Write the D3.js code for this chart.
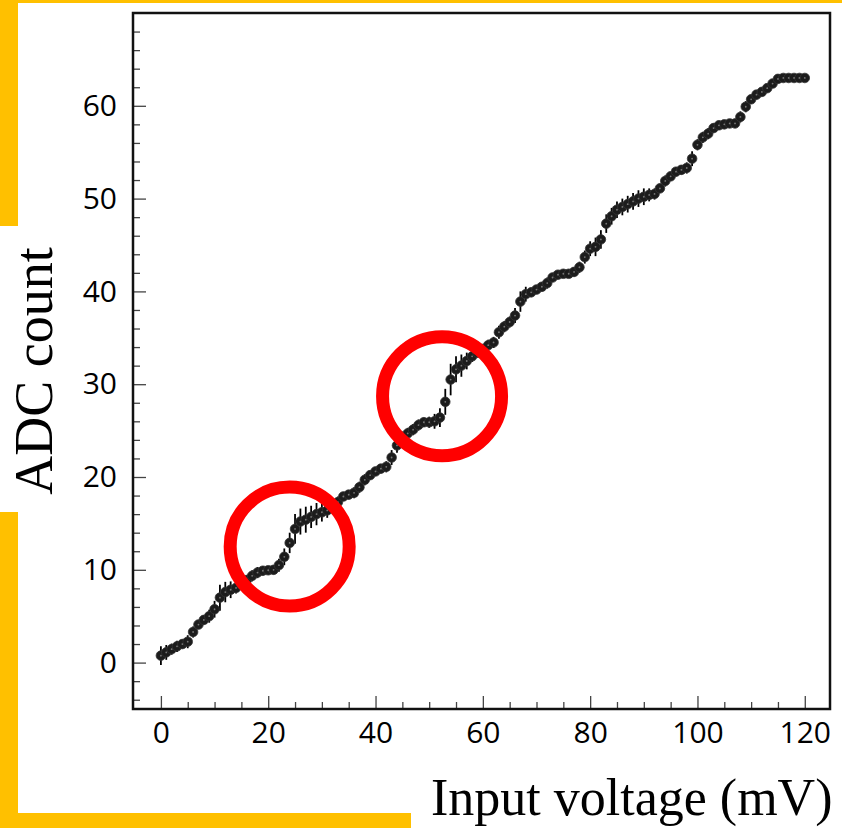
<!DOCTYPE html>
<html>
<head>
<meta charset="utf-8">
<script src="https://cdn.jsdelivr.net/npm/d3@7"></script>
<style>
  html, body { margin: 0; padding: 0; background: #fff; }
  svg { display: block; }
</style>
</head>
<body>
<svg id="chart" width="842" height="828"></svg>
<script>
// ---- data ----
const voltage = [0,1,2,3,4,5,6,7,8,9,10,11,12,13,14,15,16,17,18,19,20,21,22,23,24,25,26,27,28,29,30,
  31,32,33,34,35,36,37,38,39,40,41,42,43,44,45,46,47,48,49,50,51,52,53,54,55,56,57,58,59,60,
  61,62,63,64,65,66,67,68,69,70,71,72,73,74,75,76,77,78,79,80,81,82,83,84,85,86,87,88,89,90,
  91,92,93,94,95,96,97,98,99,100,101,102,103,104,105,106,107,108,109,110,111,112,113,114,115,116,117,118,119,120];
const adcCount = [0.75,1.1,1.45,1.75,2.0,2.25,3.3,4.1,4.6,5.0,
  5.75,7.0,7.6,7.85,8.05,8.4,8.9,9.35,9.7,9.9,
  9.95,10.0,10.5,11.4,12.9,14.4,15.2,15.4,15.7,16.0,
  16.2,16.4,16.7,17.3,17.9,18.1,18.3,18.9,19.7,20.2,
  20.6,20.9,21.1,22.1,23.4,24.2,24.7,25.1,25.6,25.9,
  25.9,26.0,26.4,28.1,30.5,31.6,32.0,32.5,33.0,33.4,
  33.8,34.2,34.5,35.6,36.2,36.7,37.4,38.9,39.7,39.9,
  40.2,40.5,40.9,41.5,41.8,41.9,41.9,42.1,42.6,43.7,
  44.6,44.8,45.6,47.3,48.1,48.8,49.1,49.4,49.7,50.0,
  50.2,50.4,50.5,51.1,51.9,52.4,52.9,53.1,53.3,54.3,
  55.8,56.6,57.0,57.6,57.9,58.0,58.1,58.1,58.8,59.9,
  60.7,61.2,61.5,61.9,62.4,62.9,63.0,63.0,63.0,63.0,
  63.0];
const adcError = [1.0,0.8,0.6,0.6,0.5,0.7,0.6,0.5,0.5,0.7,
  0.9,1.4,1.1,0.9,0.6,0.5,0.5,0.6,0.6,0.5,
  0.4,0.5,0.7,0.9,1.1,1.6,1.4,1.4,1.2,1.2,
  1.0,0.8,0.7,0.6,0.5,0.5,0.6,0.6,0.6,0.5,
  0.5,0.5,0.6,0.8,0.8,0.7,0.6,0.6,0.6,0.5,
  0.6,0.8,1.0,1.4,1.7,1.4,1.2,0.9,0.6,0.5,
  0.5,0.6,0.6,0.7,0.6,0.6,0.8,1.1,0.8,0.5,
  0.5,0.5,0.6,0.5,0.4,0.4,0.4,0.5,0.6,0.7,
  0.8,1.0,1.0,1.0,0.9,0.9,0.9,0.9,0.9,0.9,
  0.9,0.7,0.6,0.5,0.6,0.5,0.5,0.5,0.6,0.8,
  0.6,0.6,0.6,0.5,0.5,0.4,0.4,0.5,0.6,0.6,
  0.5,0.5,0.4,0.4,0.4,0.3,0.2,0.2,0.2,0.2,
  0.2];
const xMajorTicks = [0,20,40,60,80,100,120];
const xMinorTicks = [5,10,15,25,30,35,45,50,55,65,70,75,85,90,95,105,110,115];
const yMajorTicks = [0,10,20,30,40,50,60];
const yMinorTicks = [-4,-2,2,4,6,8,12,14,16,18,22,24,26,28,32,34,36,38,42,44,46,48,52,54,56,58,62,64,66,68];
const circleMarks = [[24.0,12.5],[52.4,28.7]];
const xTitle = "Input voltage (mV)";
const yTitle = "ADC count";

// ---- drawing ----
const svg = d3.select("#chart");
const W = 842, H = 828;
const L = 133, R = 830, T = 13, B = 709;
const x = d3.scaleLinear().domain([-5.2, 124.7]).range([L, R]);
const y = d3.scaleLinear().domain([-5, 70]).range([B, T]);
const yellow = "#FFC000";

svg.append("rect").attr("width", W).attr("height", H).attr("fill", "#fff");
// decorative bars
svg.append("rect").attr("x", 0).attr("y", 0).attr("width", W).attr("height", 3).attr("fill", yellow);
svg.append("rect").attr("x", 0).attr("y", 0).attr("width", 18).attr("height", 226).attr("fill", yellow);
svg.append("rect").attr("x", 0).attr("y", 512).attr("width", 18).attr("height", H - 512).attr("fill", yellow);
svg.append("rect").attr("x", 0).attr("y", 813).attr("width", 411).attr("height", 15).attr("fill", yellow);

const tickFont = "'Open Sans', 'Noto Sans', sans-serif";

function styleAxis(g) {
  g.select(".domain").remove();
  g.selectAll(".tick line").attr("stroke", "#444").attr("stroke-width", 1.3);
  g.selectAll(".tick text").attr("fill", "#000").style("font-family", tickFont)
    .style("font-size", "30px").style("font-weight", 400);
}

svg.append("g").attr("transform", `translate(0,${B})`)
  .call(d3.axisBottom(x).tickValues(xMajorTicks).tickSize(-13).tickPadding(13).tickFormat(d3.format("d")))
  .call(styleAxis);
svg.append("g").attr("transform", `translate(0,${B})`)
  .call(d3.axisBottom(x).tickValues(xMinorTicks).tickSize(-7).tickFormat(""))
  .call(styleAxis);
svg.append("g").attr("transform", `translate(${L},0)`)
  .call(d3.axisLeft(y).tickValues(yMajorTicks).tickSize(-13).tickPadding(16).tickFormat(d3.format("d")))
  .call(styleAxis);
svg.append("g").attr("transform", `translate(${L},0)`)
  .call(d3.axisLeft(y).tickValues(yMinorTicks).tickSize(-7).tickFormat(""))
  .call(styleAxis);

// frame
svg.append("rect").attr("x", L).attr("y", T).attr("width", R - L).attr("height", B - T)
  .attr("fill", "none").attr("stroke", "#111").attr("stroke-width", 2.5);

// data
const pts = voltage.map((v, i) => ({ v, a: adcCount[i], e: adcError[i] }));
svg.append("g").selectAll("line").data(pts).join("line")
  .attr("x1", d => x(d.v)).attr("x2", d => x(d.v))
  .attr("y1", d => y(d.a - d.e)).attr("y2", d => y(d.a + d.e))
  .attr("stroke", "#000").attr("stroke-width", 1.8);
svg.append("g").selectAll("circle").data(pts).join("circle")
  .attr("cx", d => x(d.v)).attr("cy", d => y(d.a)).attr("r", 4.8)
  .attr("fill", "#1c1c1c").attr("stroke", "#333").attr("stroke-width", 0.8);
svg.append("g").selectAll("circle").data(pts).join("circle")
  .attr("cx", d => x(d.v)).attr("cy", d => y(d.a)).attr("r", 0.9)
  .attr("fill", "#777");

// annotation circles
svg.append("g").selectAll("circle").data(circleMarks).join("circle")
  .attr("cx", d => x(d[0])).attr("cy", d => y(d[1])).attr("r", 59.5)
  .attr("fill", "none").attr("stroke", "#FF0000").attr("stroke-width", 13);

// titles
svg.append("text").attr("x", 431).attr("y", 815)
  .style("font-family", "'Liberation Serif', 'Times New Roman', serif").style("font-size", "52px")
  .attr("fill", "#000").text(xTitle);
svg.append("text").attr("transform", "translate(52,371) rotate(-90)").attr("text-anchor", "middle")
  .style("font-family", "'Liberation Serif', 'Times New Roman', serif").style("font-size", "54px")
  .attr("fill", "#000").text(yTitle);
</script>
</body>
</html>
